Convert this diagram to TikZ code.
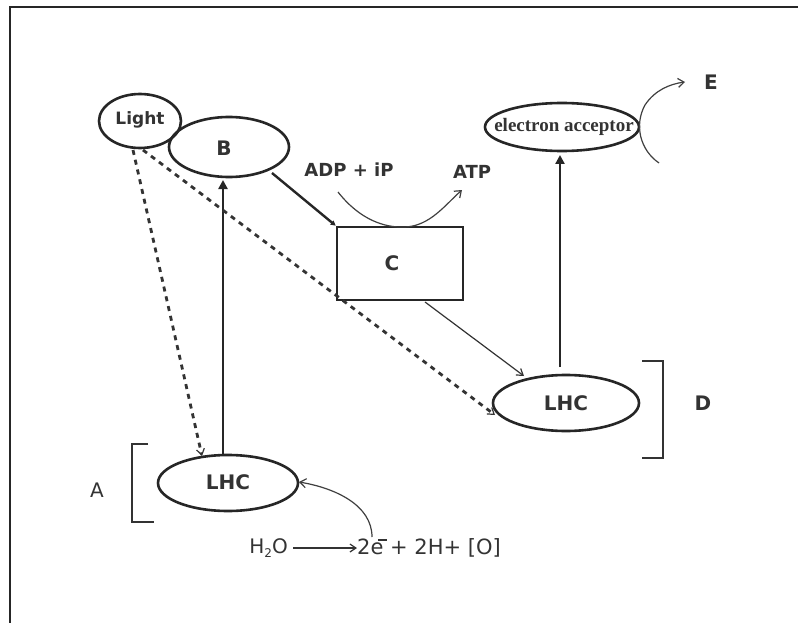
\documentclass[tikz,border=0pt]{standalone}
\usepackage{fontspec}
\setmainfont{DejaVu Sans}
\newfontfamily\serifb{Liberation Serif}
\usetikzlibrary{arrows.meta,shapes.geometric}
\tikzset{
  ell/.style={draw=black!85, line width=2.6pt, ellipse, inner sep=0pt},
  lbl/.style={text=black!80, font=\fontsize{20}{22}\selectfont},
  blbl/.style={text=black!80, font=\bfseries\fontsize{20}{22}\selectfont},
  thickarr/.style={line width=2.6pt, draw=black!85, -{Triangle[length=9pt,width=9pt]}},
  thinarr/.style={line width=1.2pt, draw=black!80, -{Straight Barb[length=6pt,width=8pt]}},
  dasharr/.style={line width=2.8pt, draw=black!80, dash pattern=on 5pt off 5pt, -{Straight Barb[length=6pt,width=8pt,line width=1.2pt]}},
  curvearr/.style={line width=1.2pt, draw=black!75, -{Straight Barb[length=6pt,width=9pt]}},
  brk/.style={line width=2.2pt, draw=black!80},
}
\begin{document}
\begin{tikzpicture}[x=1pt,y=-1pt]
\useasboundingbox (0,0) rectangle (798,623);
\fill[white] (0,0) rectangle (798,623);
% frame
\draw[line width=2pt, black!85] (10,623) -- (10,7) -- (798,7);
% nodes
\node[ell, minimum width=82pt, minimum height=54pt] (light) at (140,121) {};
\node[font=\bfseries\fontsize{17}{19}\selectfont, text=black!80] at (140,120) {Light};
\node[ell, minimum width=120pt, minimum height=60pt] (b) at (229,147) {};
\node[blbl] at (224,148) {B};
\node[ell, minimum width=154pt, minimum height=48pt] (ea) at (562,127) {};
\node[font=\serifb\bfseries\fontsize{19}{21}\selectfont, text=black!80] at (564,127) {electron acceptor};
\node[draw=black!85, line width=2.6pt, minimum width=126pt, minimum height=73pt, inner sep=0pt] (c) at (400,263.5) {};
\node[blbl] at (392,263) {C};
\node[ell, minimum width=140pt, minimum height=56pt] (lhca) at (228,483) {};
\node[blbl] at (228,482) {LHC};
\node[ell, minimum width=146pt, minimum height=56pt] (lhcd) at (566,403) {};
\node[blbl] at (566,403) {LHC};
% labels
\node[text=black!80, font=\bfseries\fontsize{18}{20}\selectfont] (adp) at (349,170) {ADP + iP};
\node[text=black!80, font=\bfseries\fontsize{18}{20}\selectfont] (atp) at (472,172) {ATP};
\node[blbl] (e) at (711,82) {E};
\node[blbl] (d) at (703,403) {D};
\node[lbl] (a) at (97,490) {A};
\node[lbl, anchor=east, inner sep=0pt] (h2o) at (288,548) {H\raisebox{-0.3ex}{\fontsize{12}{12}\selectfont 2}O};
\node[lbl, font=\fontsize{21}{23}\selectfont, anchor=west, inner sep=0pt] (prod) at (357,548) {2e + 2H+ [O]};
\draw[line width=1.6pt, black!80] (378,540) -- (387,540);
% coordinates
\coordinate (bA) at (223,455);
\coordinate (bB) at (223,180);
\coordinate (dA) at (560,367);
\coordinate (dB) at (560,155);
% arrows
\draw[thickarr] (bA) -- (bB);
\draw[thickarr] (dA) -- (dB);
\draw[line width=2.4pt, black!85, -{Triangle[length=5pt,width=5pt]}] (272,173) -- (c.north west);
\draw[thinarr] (425,302) -- (524,376);
\draw[dasharr] (133,150) -- (202,456);
\draw[dasharr] (143,150) -- (495,415);
\draw[line width=1.2pt, black!80, -{Straight Barb[length=6pt,width=8pt]}] (h2o.east) ++(5,0) coordinate (hs) -- (prod.west);
% curved arrows
\draw[curvearr] (338,192) .. controls (360,220) and (385,228) .. (405,227) .. controls (430,226) and (445,205) .. (462,190);
\draw[curvearr] (659,163) .. controls (640,150) and (634,125) .. (645,105) .. controls (655,90) and (670,84) .. (685,82);
\draw[curvearr] (372,537) .. controls (372,505) and (335,488) .. (299,482);
% brackets
\draw[brk] (148,444) -- (132,444) -- (132,522) -- (154,522);
\draw[brk] (642,361) -- (663,361) -- (663,458) -- (642,458);
\end{tikzpicture}
\end{document}
